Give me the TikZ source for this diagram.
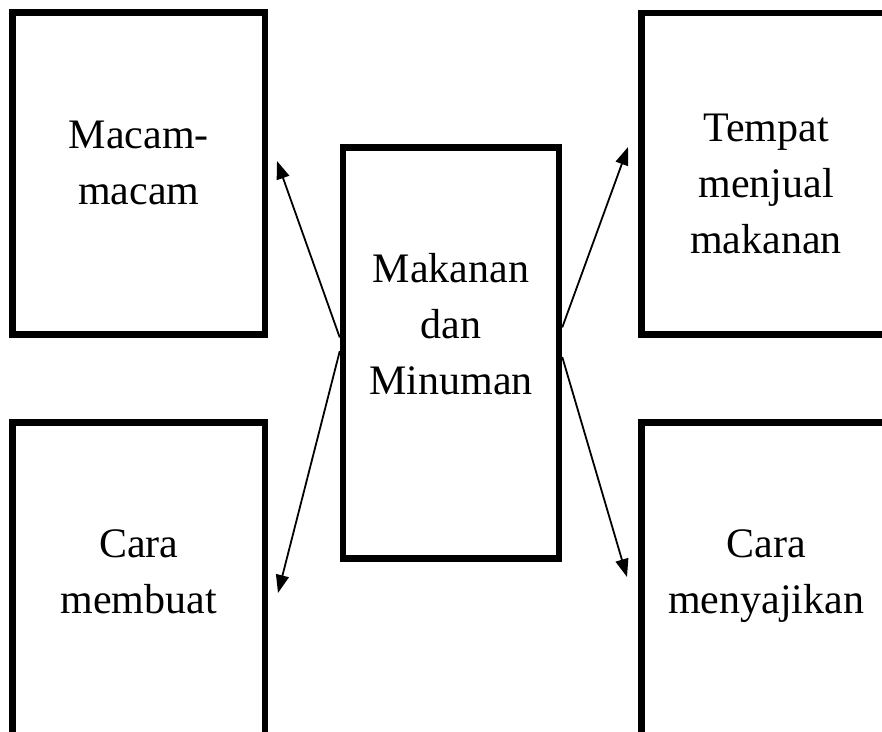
\documentclass[tikz,border=0pt]{standalone}
\usepackage{fontspec}
\setmainfont{Liberation Serif}
\usepackage{tkz-euclide}
\usetikzlibrary{arrows.meta}

\tikzset{
    kotak/.style = {draw, line width=6.5pt, inner sep=0pt},
    isi/.style = {align=center, anchor=base, inner sep=0pt, font=\fontsize{42}{56}\selectfont}
}

\begin{document}
\begin{tikzpicture}[x=1pt, y=-1pt, >={Triangle[length=18pt, width=13pt]}]
    \useasboundingbox (0,0) rectangle (882,731);
    \clip (0,0) rectangle (882,731);
    % kotak
    \node[kotak, minimum width=252.5pt, minimum height=322pt] (macam) at (138.75,173.5) {};
    \node[kotak, minimum width=249pt, minimum height=321.5pt] (tempat) at (766,173.75) {};
    \node[kotak, minimum width=252.5pt, minimum height=322pt] (membuat) at (138.75,583.5) {};
    \node[kotak, minimum width=249pt, minimum height=322pt] (menyajikan) at (766,583.5) {};
    \node[kotak, minimum width=216pt, minimum height=411.2pt] (pusat) at (451,353.1) {};
    % teks (base = baris terakhir)
    \node[isi] (t-macam) at (138.75,204) {Macam-\\macam};
    \node[isi] (t-tempat) at (766,253) {Tempat\\menjual\\makanan};
    \node[isi] (t-membuat) at (138.75,613) {Cara\\membuat};
    \node[isi] (t-menyajikan) at (766,613) {Cara\\menyajikan};
    \node[isi] (t-pusat) at (451,394) {Makanan\\dan\\Minuman};
    % panah
    \tkzDefPoints{277/161/A, 278/593/B, 628/147/C, 627/577/D}
    \draw[->, line width=1.8pt] (pusat.172) -- (A);
    \draw[->, line width=1.8pt] (pusat.179) -- (B);
    \draw[->, line width=1.8pt] (pusat.13) -- (C);
    \draw[->, line width=1.8pt] (pusat.358) -- (D);
\end{tikzpicture}
\end{document}
